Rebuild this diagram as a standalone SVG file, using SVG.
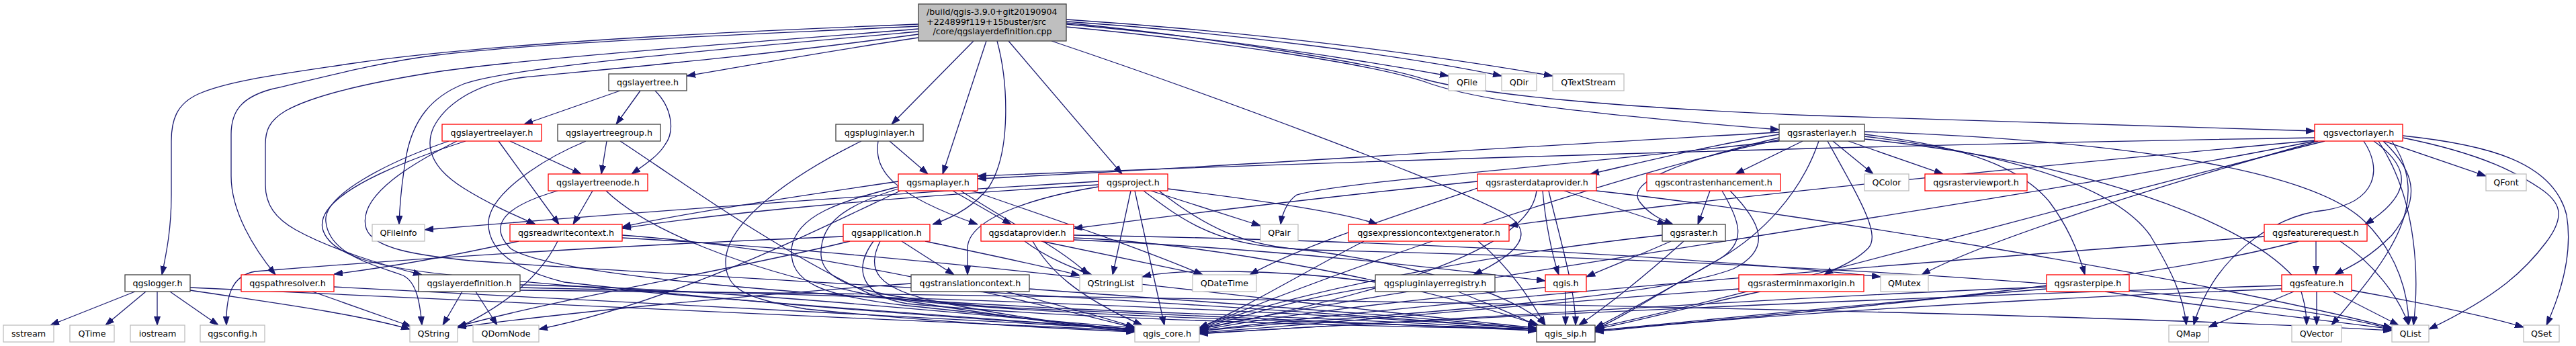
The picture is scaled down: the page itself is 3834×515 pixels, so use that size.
<svg xmlns="http://www.w3.org/2000/svg" width="3834" height="515" viewBox="0 0 3834 515">
<style>
rect{stroke-width:1.3}
.b rect{fill:#fff;stroke:#404040}
.r rect{fill:#fff;stroke:#ff0000}
.g rect{fill:#fff;stroke:#bfbfbf}
.root rect{fill:#bfbfbf;stroke:#404040}
text{font-family:"DejaVu Sans","Liberation Sans",sans-serif;font-size:12.7px;fill:#000;text-anchor:middle}
#edges path{fill:none;stroke:#191970;stroke-width:1.3;marker-end:url(#a)}
</style>
<defs>
<marker id="a" markerWidth="13" markerHeight="10" refX="13" refY="5" orient="auto" markerUnits="userSpaceOnUse"><path d="M0,0.5 L13,5 L0,9.5 z" fill="#191970" stroke="#191970" stroke-width="1"/></marker>
</defs>
<rect width="3834" height="515" fill="#fff"/>
<g id="edges">
<path d="M1367,36 C1000,50 700,68 520,95 C420,110 340,120 295,140 C262,155 255,180 255,210 L255,290 C255,340 248,375 241,409"/>
<path d="M1367,39 C1100,52 820,62 650,82 C560,93 470,118 403,133 C360,145 344,165 344,200 L344,262 C344,315 378,370 410,409"/>
<path d="M1367,43 C1100,65 800,85 650,107 C560,121 470,140 425,165 C400,180 395,195 395,215 L395,275 C395,305 410,325 440,342 C490,370 570,395 628,409"/>
<path d="M1367,47 C1050,75 760,100 690,125 C640,145 615,180 605,230 C598,270 595,300 594,334"/>
<path d="M1367,51 C1120,85 880,105 780,115 C700,125 660,160 645,190 C630,225 650,255 690,280 C730,305 770,322 797,334"/>
<path d="M1367,56 C1220,78 1110,98 1022,113"/>
<path d="M1449,61 L1327,185"/>
<path d="M1468,61 L1403,259"/>
<path d="M1484,61 C1500,120 1506,225 1472,278 C1448,310 1415,325 1388,334"/>
<path d="M1501,61 L1670,259"/>
<path d="M1565,61 C1800,140 2150,270 2240,318 C2285,345 2265,375 2193,409"/>
<path d="M1587,36 C1800,55 2000,85 2156,113"/>
<path d="M1587,32 C1850,50 2100,85 2235,113"/>
<path d="M1587,29 C1900,50 2150,85 2311,113"/>
<path d="M1587,40 C1800,60 2050,95 2130,125 C2190,145 2300,165 2648,193"/>
<path d="M1587,34 C1800,55 2050,95 2120,118 C2200,140 2400,160 2700,172 C3000,182 3250,190 3445,195"/>
<path d="M923,135 L780,185"/>
<path d="M953,135 L917,185"/>
<path d="M975,135 C1000,160 1005,195 990,215 C980,232 960,245 940,259"/>
<path d="M201,434 L75,484"/>
<path d="M217,434 L157,484"/>
<path d="M234,434 L234,484"/>
<path d="M253,434 L325,484"/>
<path d="M283,432 C400,450 520,465 610,490"/>
<path d="M283,428 C600,445 1200,470 1689,492"/>
<path d="M465,434 L612,486"/>
<path d="M497,427 C800,440 1300,470 1689,490"/>
<path d="M688,434 L659,484"/>
<path d="M708,434 L740,484"/>
<path d="M774,424 C1100,430 1450,470 1689,488"/>
<path d="M774,428 C1300,440 1900,460 2287,490"/>
<path d="M774,432 C1600,440 3000,460 3560,492"/>
<path d="M772,359 C700,375 600,395 497,408"/>
<path d="M926,350 C1200,370 1500,440 1689,488"/>
<path d="M926,354 C1400,380 1900,450 2287,488"/>
<path d="M830,359 C800,420 740,460 681,488"/>
<path d="M882,284 L853,334"/>
<path d="M902,284 C960,340 1100,400 1300,440 C1450,465 1600,485 1689,494"/>
<path d="M830,284 C740,310 730,340 760,370 C820,410 1200,440 1600,460 C1900,472 2150,480 2287,493"/>
<path d="M759,210 L865,259"/>
<path d="M742,210 L832,334"/>
<path d="M693,210 C600,240 470,290 480,340 C490,380 560,400 700,412 C1000,440 1400,470 1689,490"/>
<path d="M668,210 C580,240 480,290 485,330 C490,380 560,395 600,410 C620,420 625,450 628,484"/>
<path d="M680,210 C620,240 530,290 545,340 C555,370 620,380 700,388 C1000,410 1800,450 2287,490"/>
<path d="M903,210 L895,259"/>
<path d="M872,210 C800,240 730,290 727,330 C725,370 760,400 840,420 C1100,450 1450,475 1689,490"/>
<path d="M923,210 C1000,260 1150,370 1300,440 C1500,470 2000,480 2287,490"/>
<path d="M1324,210 L1381,259"/>
<path d="M1307,210 C1300,255 1330,290 1455,334"/>
<path d="M1282,210 C1180,260 1080,330 1080,390 C1080,430 1110,445 1200,460 C1400,480 1550,488 1689,494"/>
<path d="M1337,270 C1200,290 1000,320 926,338"/>
<path d="M1418,284 L1505,334"/>
<path d="M1447,284 C1550,320 1700,370 1790,409"/>
<path d="M1337,278 C1250,300 1185,320 1178,370 C1175,420 1220,440 1350,455 C1500,470 1620,485 1689,492"/>
<path d="M1337,281 C1260,305 1220,330 1222,380 C1225,425 1300,445 1500,458 C1900,475 2150,485 2287,492"/>
<path d="M1340,284 C1200,350 1000,450 802,490"/>
<path d="M1430,284 C1500,330 1580,370 1620,409"/>
<path d="M1342,359 L1420,409"/>
<path d="M1255,352 C1000,362 700,378 380,404 C345,410 336,440 337,484"/>
<path d="M1377,359 C1450,375 1550,395 1607,410"/>
<path d="M1310,359 C1290,400 1300,430 1400,450 C1500,470 1600,485 1689,490"/>
<path d="M1300,359 C1270,400 1280,440 1350,452 C1600,475 2000,485 2287,490"/>
<path d="M1265,359 C1100,400 850,440 681,486"/>
<path d="M1550,359 L1790,409"/>
<path d="M1525,359 C1560,385 1600,400 1625,409"/>
<path d="M1598,350 C1900,355 2400,370 2799,412"/>
<path d="M1537,359 C1560,400 1600,440 1700,484"/>
<path d="M1598,354 C1800,362 2100,420 2290,484"/>
<path d="M1598,357 C1900,370 2150,400 2300,418"/>
<path d="M1683,284 L1656,409"/>
<path d="M1689,284 L1733,484"/>
<path d="M1713,284 L1876,336"/>
<path d="M1738,281 C1850,295 2000,315 2050,334"/>
<path d="M1635,270 C1300,290 900,320 632,342"/>
<path d="M1635,275 C1300,295 1050,320 926,340"/>
<path d="M1635,278 C1560,290 1440,320 1440,370 L1440,409"/>
<path d="M1702,284 C1750,320 1800,360 1900,368 C2050,380 2250,430 2300,484"/>
<path d="M1725,284 C1790,335 1850,368 1950,372 C2500,385 3300,420 3560,490"/>
<path d="M1497,434 C1580,455 1650,475 1689,487"/>
<path d="M1532,430 C1800,450 2100,470 2287,490"/>
<path d="M1356,422 C1100,440 850,465 681,487"/>
<path d="M2047,427 C1950,440 1850,470 1785,490"/>
<path d="M2170,434 C2220,455 2260,470 2287,485"/>
<path d="M2047,420 C1900,400 1750,400 1700,412"/>
<path d="M2330,434 L2330,484"/>
<path d="M2300,428 C2100,445 1900,470 1785,492"/>
<path d="M2030,359 C1950,400 1850,460 1785,488"/>
<path d="M2200,359 C2250,400 2280,450 2300,484"/>
<path d="M2683,210 L2583,259"/>
<path d="M2720,210 C2770,300 2800,350 2780,370 C2760,390 2730,400 2715,409"/>
<path d="M2728,210 L2788,259"/>
<path d="M2751,210 L2892,259"/>
<path d="M2648,205 C2500,240 2420,270 2440,300 C2455,320 2475,328 2490,334"/>
<path d="M2707,210 C2680,290 2620,350 2560,385 C2480,430 2420,470 2374,490"/>
<path d="M2648,200 C2550,215 2450,240 2367,259"/>
<path d="M2648,197 C2300,215 1800,250 1455,266"/>
<path d="M2648,208 C2400,260 2000,400 1785,488"/>
<path d="M2775,200 C2900,215 3000,240 3050,300 C3080,340 3095,380 3103,409"/>
<path d="M2775,203 C3000,230 3150,280 3200,350 C3230,400 3250,440 3254,484"/>
<path d="M2775,196 C3200,210 3450,260 3520,330 C3570,380 3585,440 3585,484"/>
<path d="M2775,207 C3100,240 3350,330 3420,420 C3430,445 3433,465 3433,484"/>
<path d="M2648,210 C2300,250 2000,270 1930,290 C1915,300 1908,320 1906,334"/>
<path d="M2199,270 C2000,290 1750,320 1598,340"/>
<path d="M2328,284 L2480,334"/>
<path d="M2287,284 C2280,350 2150,420 1785,490"/>
<path d="M2296,284 C2300,330 2310,380 2320,409"/>
<path d="M2199,280 C2050,330 1930,370 1860,409"/>
<path d="M2376,284 C2700,320 3300,420 3560,488"/>
<path d="M2305,284 C2320,350 2345,430 2345,484"/>
<path d="M2545,284 L2527,334"/>
<path d="M2563,284 C2590,330 2600,360 2560,385 C2500,420 2430,460 2374,488"/>
<path d="M2575,284 C2620,330 2640,370 2580,400 C2450,450 2000,470 1785,493"/>
<path d="M2487,359 C2440,380 2400,395 2361,412"/>
<path d="M2506,359 C2460,400 2400,450 2350,484"/>
<path d="M2474,350 C2200,380 1900,440 1785,490"/>
<path d="M2620,434 C2500,460 2430,480 2374,490"/>
<path d="M2588,430 C2300,450 2000,480 1785,495"/>
<path d="M3046,430 C2800,450 2500,480 2374,492"/>
<path d="M3046,427 C2600,445 2100,480 1785,496"/>
<path d="M3133,434 C3300,460 3450,475 3560,490"/>
<path d="M3533,210 C3590,250 3590,290 3520,334"/>
<path d="M3547,210 C3600,260 3600,300 3560,350 C3520,390 3490,400 3475,409"/>
<path d="M3548,210 L3700,262"/>
<path d="M3576,202 C3700,215 3800,240 3820,320 C3830,380 3810,440 3790,484"/>
<path d="M3576,205 C3700,230 3750,260 3780,280 C3810,300 3820,320 3790,360 C3760,400 3720,440 3615,490"/>
<path d="M3518,210 C3545,250 3540,300 3460,313 C3380,320 3290,390 3265,484"/>
<path d="M3560,210 C3620,300 3560,380 3470,484"/>
<path d="M3445,209 C3000,250 2500,300 2246,336"/>
<path d="M3450,210 C3200,280 2950,360 2860,409"/>
<path d="M3445,205 C2800,215 2000,240 1455,262"/>
<path d="M3445,210 C3000,300 2000,440 1785,490"/>
<path d="M3460,210 C3100,300 2600,440 2374,488"/>
<path d="M3540,210 C3600,300 3600,420 3592,484"/>
<path d="M3447,359 L3447,409"/>
<path d="M3370,352 C3000,380 2200,440 1785,493"/>
<path d="M3421,359 C3200,420 2700,465 2374,492"/>
<path d="M3483,359 C3530,390 3570,440 3585,484"/>
<path d="M3448,434 L3448,484"/>
<path d="M3414,434 L3287,487"/>
<path d="M3472,434 L3570,484"/>
<path d="M3500,432 C3600,450 3700,470 3756,487"/>
<path d="M3396,425 C2900,440 2200,470 1785,497"/>
<path d="M3396,430 C3000,445 2600,470 2374,494"/>
</g>
<g id="root" class="root"><rect x="1367" y="6" width="220" height="55"/><text x="1379" y="22" style="text-anchor:start">/build/qgis-3.9.0+git20190904</text><text x="1379" y="36.5" style="text-anchor:start">+224899f119+15buster/src</text><text x="1477" y="51">/core/qgslayerdefinition.cpp</text></g>
<g id="n_layertree" class="b"><rect x="906" y="110" width="116" height="25"/><text x="964" y="127">qgslayertree.h</text></g>
<g id="n_QFile" class="g"><rect x="2156" y="110" width="55" height="25"/><text x="2183.5" y="127">QFile</text></g>
<g id="n_QDir" class="g"><rect x="2235" y="110" width="52" height="25"/><text x="2261" y="127">QDir</text></g>
<g id="n_QTextStream" class="g"><rect x="2311" y="110" width="106" height="25"/><text x="2364" y="127">QTextStream</text></g>
<g id="n_layertreelayer" class="r"><rect x="658" y="185" width="148" height="25"/><text x="732" y="202">qgslayertreelayer.h</text></g>
<g id="n_layertreegroup" class="b"><rect x="830" y="185" width="153" height="25"/><text x="906.5" y="202">qgslayertreegroup.h</text></g>
<g id="n_pluginlayer" class="b"><rect x="1244" y="185" width="130" height="25"/><text x="1309" y="202">qgspluginlayer.h</text></g>
<g id="n_rasterlayer" class="b"><rect x="2648" y="185" width="127" height="25"/><text x="2711.5" y="202">qgsrasterlayer.h</text></g>
<g id="n_vectorlayer" class="r"><rect x="3445" y="185" width="131" height="25"/><text x="3510.5" y="202">qgsvectorlayer.h</text></g>
<g id="n_layertreenode" class="r"><rect x="816" y="259" width="148" height="25"/><text x="890" y="276">qgslayertreenode.h</text></g>
<g id="n_maplayer" class="r"><rect x="1337" y="259" width="118" height="25"/><text x="1396" y="276">qgsmaplayer.h</text></g>
<g id="n_project" class="r"><rect x="1635" y="259" width="103" height="25"/><text x="1686.5" y="276">qgsproject.h</text></g>
<g id="n_rasterdataprovider" class="r"><rect x="2199" y="259" width="177" height="25"/><text x="2287.5" y="276">qgsrasterdataprovider.h</text></g>
<g id="n_contrastenhancement" class="r"><rect x="2451" y="259" width="199" height="25"/><text x="2550.5" y="276">qgscontrastenhancement.h</text></g>
<g id="n_QColor" class="g"><rect x="2775" y="259" width="66" height="25"/><text x="2808" y="276">QColor</text></g>
<g id="n_rasterviewport" class="r"><rect x="2865" y="259" width="152" height="25"/><text x="2941" y="276">qgsrasterviewport.h</text></g>
<g id="n_QFont" class="g"><rect x="3700" y="259" width="60" height="25"/><text x="3730" y="276">QFont</text></g>
<g id="n_QFileInfo" class="g"><rect x="554" y="334" width="78" height="25"/><text x="593" y="351">QFileInfo</text></g>
<g id="n_readwritecontext" class="r"><rect x="759" y="334" width="167" height="25"/><text x="842.5" y="351">qgsreadwritecontext.h</text></g>
<g id="n_application" class="r"><rect x="1255" y="334" width="129" height="25"/><text x="1319.5" y="351">qgsapplication.h</text></g>
<g id="n_dataprovider" class="r"><rect x="1460" y="334" width="138" height="25"/><text x="1529" y="351">qgsdataprovider.h</text></g>
<g id="n_QPair" class="g"><rect x="1876" y="334" width="56" height="25"/><text x="1904" y="351">QPair</text></g>
<g id="n_exprctxgen" class="r"><rect x="2007" y="334" width="239" height="25"/><text x="2126.5" y="351">qgsexpressioncontextgenerator.h</text></g>
<g id="n_raster" class="b"><rect x="2474" y="334" width="94" height="25"/><text x="2521" y="351">qgsraster.h</text></g>
<g id="n_featurerequest" class="r"><rect x="3370" y="334" width="153" height="25"/><text x="3446.5" y="351">qgsfeaturerequest.h</text></g>
<g id="n_logger" class="b"><rect x="186" y="409" width="97" height="25"/><text x="234.5" y="426">qgslogger.h</text></g>
<g id="n_pathresolver" class="r"><rect x="359" y="409" width="138" height="25"/><text x="428" y="426">qgspathresolver.h</text></g>
<g id="n_layerdefinition" class="b"><rect x="623" y="409" width="151" height="25"/><text x="698.5" y="426">qgslayerdefinition.h</text></g>
<g id="n_translationcontext" class="b"><rect x="1356" y="409" width="176" height="25"/><text x="1444" y="426">qgstranslationcontext.h</text></g>
<g id="n_QStringList" class="g"><rect x="1607" y="409" width="93" height="25"/><text x="1653.5" y="426">QStringList</text></g>
<g id="n_QDateTime" class="g"><rect x="1775" y="409" width="95" height="25"/><text x="1822.5" y="426">QDateTime</text></g>
<g id="n_pluginlayerregistry" class="b"><rect x="2047" y="409" width="178" height="25"/><text x="2136" y="426">qgspluginlayerregistry.h</text></g>
<g id="n_qgis" class="r"><rect x="2300" y="409" width="61" height="25"/><text x="2330.5" y="426">qgis.h</text></g>
<g id="n_rasterminmaxorigin" class="r"><rect x="2588" y="409" width="186" height="25"/><text x="2681" y="426">qgsrasterminmaxorigin.h</text></g>
<g id="n_QMutex" class="g"><rect x="2799" y="409" width="71" height="25"/><text x="2834.5" y="426">QMutex</text></g>
<g id="n_rasterpipe" class="r"><rect x="3046" y="409" width="123" height="25"/><text x="3107.5" y="426">qgsrasterpipe.h</text></g>
<g id="n_feature" class="r"><rect x="3396" y="409" width="104" height="25"/><text x="3448" y="426">qgsfeature.h</text></g>
<g id="n_sstream" class="g"><rect x="5" y="484" width="75" height="25"/><text x="42.5" y="501">sstream</text></g>
<g id="n_QTime" class="g"><rect x="104" y="484" width="66" height="25"/><text x="137" y="501">QTime</text></g>
<g id="n_iostream" class="g"><rect x="194" y="484" width="81" height="25"/><text x="234.5" y="501">iostream</text></g>
<g id="n_qgsconfig" class="g"><rect x="298" y="484" width="96" height="25"/><text x="346" y="501">qgsconfig.h</text></g>
<g id="n_QString" class="g"><rect x="610" y="484" width="71" height="25"/><text x="645.5" y="501">QString</text></g>
<g id="n_QDomNode" class="g"><rect x="704" y="484" width="98" height="25"/><text x="753" y="501">QDomNode</text></g>
<g id="n_qgis_core" class="g"><rect x="1689" y="484" width="96" height="25"/><text x="1737" y="501">qgis_core.h</text></g>
<g id="n_qgis_sip" class="b"><rect x="2287" y="484" width="87" height="25"/><text x="2330.5" y="501">qgis_sip.h</text></g>
<g id="n_QMap" class="g"><rect x="3228" y="484" width="59" height="25"/><text x="3257.5" y="501">QMap</text></g>
<g id="n_QVector" class="g"><rect x="3411" y="484" width="74" height="25"/><text x="3448" y="501">QVector</text></g>
<g id="n_QList" class="g"><rect x="3560" y="484" width="55" height="25"/><text x="3587.5" y="501">QList</text></g>
<g id="n_QSet" class="g"><rect x="3756" y="484" width="53" height="25"/><text x="3782.5" y="501">QSet</text></g>
</svg>
